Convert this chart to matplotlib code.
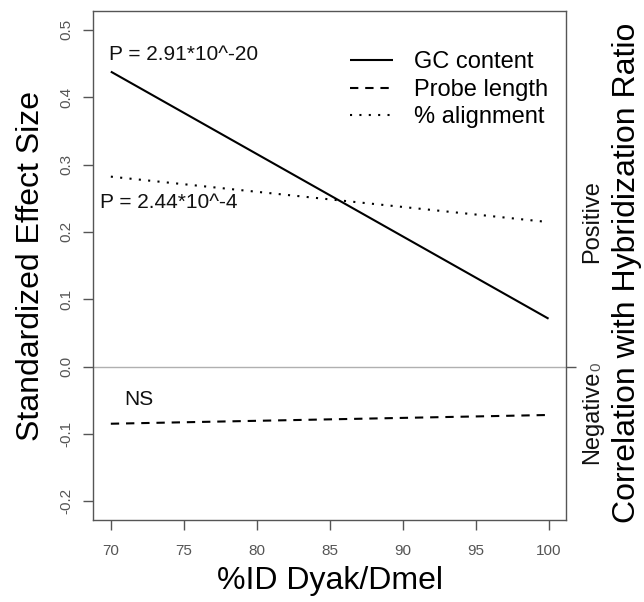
# effect size of probe properties vs. sequence identity
import numpy as np
import matplotlib
matplotlib.use('Agg')
import matplotlib.pyplot as plt

plt.rcParams['font.family'] = ['Liberation Sans', 'DejaVu Sans']

# ------------------------------------------------------------------------------
# data (fitted lines, end points)
identity = [70, 100]
gcContent = [0.438, 0.071]
probeLength = [-0.085, -0.072]
pctAlignment = [0.282, 0.2145]
seriesNames = ['GC content', 'Probe length', '% alignment']

pLabels = ['P = 2.91*10^-20', 'P = 2.44*10^-4', 'NS']
pLabelX = [69.9, 69.25, 70.95]
pLabelY = [0.463, 0.244, -0.049]

xTicks = [70, 75, 80, 85, 90, 95, 100]
yTicks = [-0.2, -0.1, 0.0, 0.1, 0.2, 0.3, 0.4, 0.5]
rightTicks = [-0.075, 0.0, 0.215]
rightLabels = ['Negative', '0', 'Positive']

# ------------------------------------------------------------------------------
fig = plt.figure(figsize=(6.44, 6.02), dpi=100)
ax = fig.add_axes([0.1449, 0.1362, 0.879 - 0.1449, 0.9817 - 0.1362])

ax.axhline(0.0, color='#b0b0b0', lw=1.0, zorder=1)
ax.plot(identity, gcContent, color='black', lw=1.5, solid_capstyle='butt',
        label=seriesNames[0])
ax.plot(identity, probeLength, color='black', lw=1.5, dashes=(4, 3.3),
        label=seriesNames[1])
ax.plot(identity, pctAlignment, color='black', lw=1.5, dashes=(1, 3.5),
        label=seriesNames[2])

for txt, x, y in zip(pLabels, pLabelX, pLabelY):
    ax.text(x, y, txt, fontsize=15, ha='left', va='center', color='#111111')

# R style 4% extension
ax.set_xlim(68.8, 101.2)
ax.set_ylim(-0.228, 0.528)
ax.set_xticks(xTicks)
ax.set_xticklabels([str(v) for v in xTicks])
ax.set_yticks(yTicks)
ax.set_yticklabels(['%.1f' % v for v in yTicks], rotation=90, va='center')

spineColor = '#555555'
for s in ax.spines.values():
    s.set_color(spineColor)
    s.set_linewidth(1.0)
ax.tick_params(axis='both', direction='out', length=7, width=1.0,
               color=spineColor, labelcolor='#555555', labelsize=11)
ax.tick_params(axis='x', pad=10)
ax.tick_params(axis='y', pad=7)

ax.set_xlabel('%ID Dyak/Dmel', fontsize=23, labelpad=6)
ax.set_ylabel('Standardized Effect Size', fontsize=23, labelpad=10)

leg = ax.legend(loc='upper right', frameon=False, fontsize=17,
                handlelength=1.78, handletextpad=0.89, labelspacing=0.24,
                borderpad=0.4, bbox_to_anchor=(1.006, 0.963))

# right hand axis: a single tick at 0, labels for the sign of the correlation
ax2 = ax.twinx()
ax2.set_ylim(ax.get_ylim())
ax2.set_yticks([0.0])
ax2.set_yticklabels([''])
ax2.tick_params(axis='y', direction='out', length=7, width=1.0,
                color=spineColor)
for s in ax2.spines.values():
    s.set_visible(False)

trans = ax.get_yaxis_transform()
xRight = (603 - 93.3) / 472.7
for lab, y in zip(rightLabels, rightTicks):
    if lab == '0':
        ax.text(xRight, y, lab, transform=trans, rotation=90, fontsize=11,
                color='#555555', ha='right', va='center', clip_on=False)
    else:
        ax.text(xRight, y, lab, transform=trans, rotation=90, fontsize=17,
                color='#111111', ha='right', va='center', clip_on=False)

fig.text(627 / 644, 1 - 273 / 602, 'Correlation with Hybridization Ratio',
         rotation=90, fontsize=23, ha='center', va='center')

fig.savefig('out.png', dpi=100)
